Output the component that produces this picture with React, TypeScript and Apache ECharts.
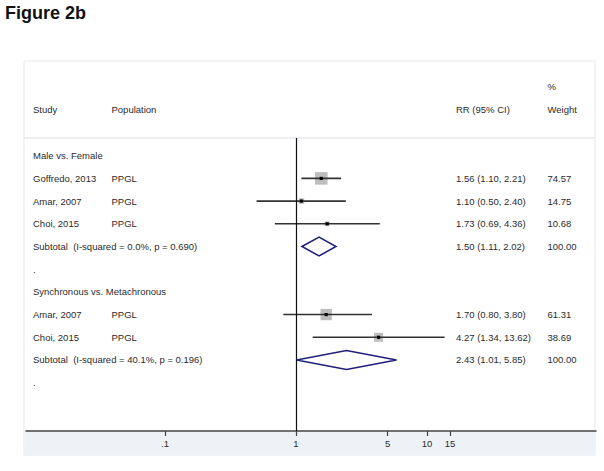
import React, { useEffect, useRef } from "react";
import * as echarts from "echarts";

const rowLabels = [
  "Male vs. Female",
  "Goffredo, 2013",
  "Amar, 2007",
  "Choi, 2015",
  "Subtotal  (I-squared = 0.0%, p = 0.690)",
  ".",
  "Synchronous vs. Metachronous",
  "Amar, 2007",
  "Choi, 2015",
  "Subtotal  (I-squared = 40.1%, p = 0.196)",
  ".",
];
const populations = ["", "PPGL", "PPGL", "PPGL", "", "", "", "PPGL", "PPGL", "", ""];
const estimates = [null, 1.56, 1.1, 1.73, 1.5, null, null, 1.7, 4.27, 2.43, null];
const lowerCI = [null, 1.1, 0.5, 0.69, 1.11, null, null, 0.8, 1.34, 1.01, null];
const upperCI = [null, 2.21, 2.4, 4.36, 2.02, null, null, 3.8, 13.62, 5.85, null];
const weights = [null, 74.57, 14.75, 10.68, 100.0, null, null, 61.31, 38.69, 100.0, null];
const isSubtotal = [false, false, false, false, true, false, false, false, false, true, false];

const tickValues = [0.1, 1, 5, 10, 15];
const tickLabels = [".1", "1", "5", "10", "15"];

const FONT = '"Liberation Sans", Arial, Helvetica, sans-serif';
const TEXT = "#2b2b2b";

export default function App() {
  const ref = useRef<HTMLDivElement>(null);

  useEffect(() => {
    if (!ref.current) return;
    const chart = echarts.init(ref.current, null, { renderer: "svg" });

    const xMin = Math.pow(10, -(296 - 26) / 131);
    const xMax = Math.pow(10, (596 - 296) / 131);

    const studyData: any[] = [];
    const diamondData: any[] = [];
    estimates.forEach((e, i) => {
      if (e == null) return;
      const item = [e, lowerCI[i], upperCI[i], i, weights[i]];
      if (isSubtotal[i]) diamondData.push(item);
      else studyData.push(item);
    });

    const option: any = {
      animation: false,
      grid: { left: 26, right: 8, top: 138, bottom: 40 },
      xAxis: {
        type: "log",
        logBase: 10,
        position: "bottom",
        min: xMin,
        max: xMax,
        axisLine: { show: true, onZero: false, lineStyle: { color: "#444", width: 1.5 } },
        axisTick: {
          show: true,
          customValues: tickValues,
          length: 5,
          inside: false,
          lineStyle: { color: "#444", width: 1.2 },
        },
        axisLabel: {
          customValues: tickValues,
          formatter: (v: number) => {
            let best = 0;
            tickValues.forEach((t, k) => {
              if (Math.abs(Math.log10(t) - Math.log10(v)) < Math.abs(Math.log10(tickValues[best]) - Math.log10(v))) best = k;
            });
            return tickLabels[best];
          },
          fontSize: 9.5,
          fontFamily: FONT,
          color: TEXT,
          margin: 7,
        },
        splitLine: { show: false },
      },
      yAxis: { type: "value", inverse: true, min: -0.78, max: 12.13, show: false },
      series: [
        {
          type: "custom",
          name: "studies",
          data: studyData,
          renderItem: (params: any, api: any) => {
            const est = api.value(0);
            const lo = api.value(1);
            const hi = api.value(2);
            const row = api.value(3);
            const w = api.value(4);
            const c = api.coord([est, row]);
            const l = api.coord([lo, row]);
            const h = api.coord([hi, row]);
            const side = 1.45 * Math.sqrt(w);
            return {
              type: "group",
              children: [
                {
                  type: "rect",
                  shape: { x: c[0] - side / 2, y: c[1] - side / 2, width: side, height: side },
                  style: { fill: "#bdbdbd" },
                },
                {
                  type: "line",
                  shape: { x1: l[0], y1: l[1], x2: h[0], y2: h[1] },
                  style: { stroke: "#333", lineWidth: 1.6 },
                },
                {
                  type: "rect",
                  shape: { x: c[0] - 1.6, y: c[1] - 1.6, width: 3.2, height: 3.2 },
                  style: { fill: "#000" },
                },
              ],
            };
          },
          markLine: {
            silent: true,
            symbol: "none",
            label: { show: false },
            lineStyle: { color: "#111", width: 1.2, type: "solid" },
            data: [{ xAxis: 1 }],
          },
        },
        {
          type: "custom",
          name: "subtotals",
          data: diamondData,
          renderItem: (params: any, api: any) => {
            const est = api.value(0);
            const lo = api.value(1);
            const hi = api.value(2);
            const row = api.value(3);
            const c = api.coord([est, row]);
            const l = api.coord([lo, row]);
            const h = api.coord([hi, row]);
            const hh = 9.5;
            return {
              type: "polygon",
              shape: {
                points: [
                  [l[0], c[1]],
                  [c[0], c[1] - hh],
                  [h[0], c[1]],
                  [c[0], c[1] + hh],
                ],
              },
              style: { fill: "none", stroke: "#1f1f78", lineWidth: 1.5 },
            };
          },
        },
      ],
    };
    chart.setOption(option);

    const rowY = rowLabels.map((_, i) => chart.convertToPixel({ yAxisIndex: 0 } as any, i) as number);

    const txt = (text: string, x: number, y: number, extra: any = {}) => ({
      type: "text",
      x,
      y,
      style: {
        text,
        fill: TEXT,
        fontSize: 9.5,
        fontFamily: FONT,
        align: "left",
        verticalAlign: "middle",
        ...extra,
      },
    });

    const elements: any[] = [
      {
        type: "rect",
        z: -100,
        shape: { x: 24, y: 61, width: 571, height: 394 },
        style: { fill: "#ffffff", stroke: "#e3e7eb", lineWidth: 1 },
      },
      {
        type: "rect",
        z: -99,
        shape: { x: 25, y: 431, width: 570, height: 24 },
        style: { fill: "#eef2f6" },
      },
      {
        type: "line",
        z: -98,
        shape: { x1: 24, y1: 138, x2: 595, y2: 138 },
        style: { stroke: "#d9dee3", lineWidth: 1 },
      },
      txt("Figure 2b", 5, 13, { fontSize: 18, fontWeight: "bold", fill: "#111" }),
      txt("Study", 33, 109),
      txt("Population", 111.5, 109),
      txt("RR (95% CI)", 456, 109),
      txt("%", 547.5, 86),
      txt("Weight", 547.5, 109),
    ];

    rowLabels.forEach((label, i) => {
      elements.push(txt(label, 33, rowY[i]));
      if (populations[i]) elements.push(txt(populations[i], 111.5, rowY[i]));
      const e = estimates[i];
      if (e != null) {
        const rr = `${e.toFixed(2)} (${(lowerCI[i] as number).toFixed(2)}, ${(upperCI[i] as number).toFixed(2)})`;
        elements.push(txt(rr, 456, rowY[i]));
        elements.push(txt((weights[i] as number).toFixed(2), 547.5, rowY[i]));
      }
    });

    chart.setOption({ graphic: { elements } });

    return () => chart.dispose();
  }, []);

  return (
    <div
      ref={ref}
      style={{ position: "fixed", left: 0, top: 0, width: 604, height: 471, background: "#fff" }}
    />
  );
}
